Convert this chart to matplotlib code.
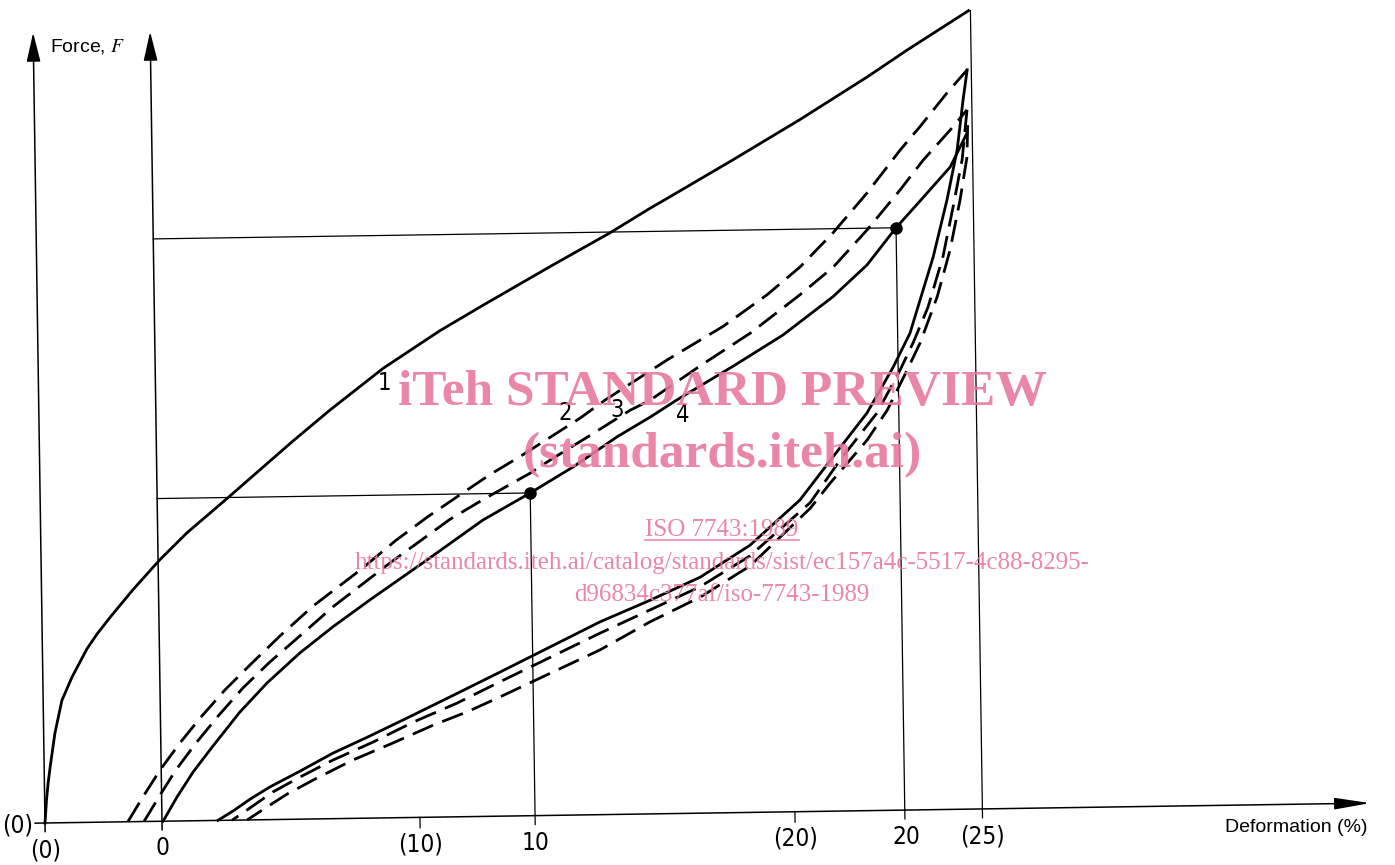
import matplotlib.pyplot as plt
from matplotlib.transforms import Affine2D
from matplotlib.patches import FancyArrowPatch
from matplotlib.lines import Line2D

plt.rcParams['mathtext.fontset'] = 'stix'

# deformation read on the bracketed (0)..(25) scale, force in arbitrary units
paren_pos = [0, 10, 20, 25]
paren_lab = ['(0)', '(10)', '(20)', '(25)']
plain_pos = [3.12, 13.07, 22.95]
plain_lab = ['0', '10', '20']

# curve 1 - first loading (solid)
c1_d = [0, 0.05, 0.1, 0.16, 0.3, 0.5, 0.78, 1.19, 1.46, 1.82, 2.44, 3.17, 3.9,
        4.98, 5.61, 6.77, 7.77, 9.2, 10.73, 11.89, 13.69, 15.3, 16.38, 16.84, 18.61,
        20.41, 22.22, 23.3, 24.95]
c1_f = [0, 2.9, 5.0, 7.0, 11.2, 15.3, 18.2, 21.7, 23.5, 25.6, 29.0, 32.7, 36.0,
        40.2, 42.7, 47.3, 51.1, 56.2, 60.8, 63.9, 68.6, 72.7, 75.7, 76.9, 81.6,
        86.5, 91.7, 95.0, 99.8]

# curve 2 (dashed)
c2_d = [2.21, 2.62, 3.09, 3.63, 4.18, 4.85, 5.53, 6.34, 7.23, 8.50, 9.45, 10.31,
        11.28, 12.0, 12.81, 13.81, 14.43, 15.10, 16.77, 18.28, 19.46, 20.36, 21.25,
        22.17, 23.07, 23.61, 24.35, 24.89]
c2_f = [0, 3.07, 6.41, 9.75, 12.84, 16.29, 19.37, 22.94, 26.6, 31.0, 34.6, 37.5,
        40.5, 42.7, 44.9, 47.8, 49.6, 51.8, 56.7, 60.8, 64.65, 68.1, 72.3,
        77.2, 82.5, 85.4, 89.6, 92.4]

# curve 3 (dashed)
c3_d = [2.64, 3.08, 3.51, 4.06, 4.66, 5.33, 6.06, 6.87, 7.77, 9.30, 10.92, 11.81,
        13.07, 13.61, 14.61, 15.77, 16.30, 17.65, 19.0, 20.34, 21.24, 22.16, 23.05,
        23.68, 24.41, 24.87]
c3_f = [0, 3.28, 6.38, 9.72, 13.05, 16.5, 19.7, 22.9, 26.5, 31.85, 37.2, 39.6,
        42.8, 44.4, 47.2, 50.5, 51.7, 55.9, 59.9, 64.6, 68.0, 72.6, 77.5,
        81.2, 84.9, 87.4]

# curve 4 (solid)
c4_d = [3.15, 3.53, 3.97, 4.51, 5.24, 5.98, 6.87, 7.76, 8.76, 10.24, 11.8, 13.07, 14.22,
        15.41, 16.30, 17.02, 18.53, 19.87, 21.22, 22.14, 22.93, 23.58, 24.40, 24.86]
c4_f = [0, 3.0, 6.1, 9.31, 13.5, 17.1, 20.8, 24.0, 27.3, 32.0, 37.05, 40.34, 43.5,
        47.2, 49.6, 51.7, 55.8, 59.6, 64.3, 68.2, 72.8, 76.1, 80.3, 84.5]

# unloading branches
u1_d = [24.89, 24.77, 24.59, 24.30, 23.91, 23.54, 23.26, 22.8, 22.08, 21.16, 20.26,
        18.91, 17.57, 16.22, 14.88, 12.19, 10.85, 9.70, 8.62, 7.71, 6.82, 6.01, 5.48,
        5.02, 4.61]
u1_f = [92.4, 88.7, 82.4, 76.2, 69.1, 63.7, 59.6, 55.4, 49.7, 44.3, 38.96,
        33.4, 29.5, 26.7, 24.1, 18.0, 15.0, 12.45, 10.1, 8.2, 6.0, 4.08, 2.6,
        1.15, 0]
u2_d = [24.87, 24.72, 24.46, 24.17, 23.75, 23.34, 22.98, 22.35, 21.35, 20.53, 18.9,
        17.56, 16.22, 14.88, 12.19, 11.03, 9.85, 8.78, 7.71, 6.82, 6.09, 5.47, 4.99]
u2_f = [87.4, 81.2, 75.3, 69.1, 62.8, 58.4, 55.0, 49.7, 43.9, 38.6, 32.05,
        28.3, 25.5, 22.7, 16.8, 14.2, 11.9, 9.5, 7.34, 5.27, 3.45, 1.49, 0]
u3_d = [24.88, 24.85, 24.65, 24.36, 24.0, 23.53, 23.17, 22.62, 22.07, 21.07, 20.53,
        18.9, 17.56, 16.21, 14.87, 12.18, 11.30, 10.39, 9.31, 8.24, 7.27, 6.47, 5.93, 5.39]
u3_f = [85.5, 81.5, 76.2, 69.9, 64.1, 58.4, 55.0, 50.0, 46.3, 41.0, 37.9,
        30.8, 27.0, 24.0, 20.6, 14.9, 13.1, 11.5, 9.35, 7.3, 5.11, 3.17, 1.6, 0]

# marked points on curve 4
dot_d = [13.07, 22.93]
dot_f = [40.34, 72.8]

# curve numbers
lab_txt = ['1', '2', '3', '4']
lab_d = [9.24, 14.03, 15.42, 17.18]
lab_f = [54.4, 50.3, 50.5, 49.8]

fig = plt.figure(figsize=(13.95, 8.65), dpi=100)
ax = fig.add_axes([0, 0, 1, 1])
ax.set_xlim(-1.2, 36.0)
ax.set_ylim(-5.25, 102.875)
ax.axis('off')

# the scanned drawing sits slightly rotated on the page
ox, oy = ax.transData.transform((0, 0))
tr = ax.transData + Affine2D().rotate_deg_around(ox, oy, 0.86)

narrow = dict(family=['DejaVu Sans'], fontstretch='condensed', fontsize=17.5)
sans = ['Liberation Sans', 'DejaVu Sans']


def arrow(p0, p1, hl, hw):
    ax.add_patch(FancyArrowPatch(p0, p1, transform=tr, color='k', lw=1.1,
                                 arrowstyle='-|>,head_length=%g,head_width=%g' % (hl, hw),
                                 mutation_scale=10, shrinkA=0, shrinkB=0))


# axes
arrow((-0.27, 0), (35.34, 0), 2.2, 0.36)
arrow((0, -1.1), (0, 98.8), 1.8, 0.43)
arrow((plain_pos[0], -1.1), (plain_pos[0], 98.7), 1.8, 0.43)

for p in paren_pos[1:3]:
    ax.plot([p, p], [0, -1.3], color='k', lw=0.9, transform=tr)
for p, l in zip(paren_pos, paren_lab):
    ax.text(p, -3.4, l, transform=tr, ha='center', va='center', **narrow)
for p, l in zip(plain_pos, plain_lab):
    ax.text(p, -3.4, l, transform=tr, ha='center', va='center', **narrow)
ax.text(-0.72, -0.2, '(0)', transform=tr, ha='center', va='center', **narrow)

# reference lines
ax.plot([paren_pos[3], paren_pos[3]], [-1.1, c1_f[-1]], color='k', lw=0.9, transform=tr)
for d, f in zip(dot_d, dot_f):
    ax.plot([plain_pos[0], d], [f, f], color='k', lw=0.9, transform=tr)
    ax.plot([d, d], [f, -1.1], color='k', lw=0.9, transform=tr)

# curves
dash = (0, (8, 3.5))
kw = dict(color='k', lw=2.0, transform=tr, solid_joinstyle='round')
ax.plot(c1_d, c1_f, **kw)
ax.plot(c2_d, c2_f, ls=dash, **kw)
ax.plot(c3_d, c3_f, ls=dash, **kw)
ax.plot(c4_d, c4_f, **kw)
ax.plot(u1_d, u1_f, **kw)
ax.plot(u2_d, u2_f, ls=dash, **kw)
ax.plot(u3_d, u3_f, ls=dash, **kw)
ax.plot(dot_d, dot_f, 'o', color='k', ms=8, transform=tr)

lab_style = dict(narrow, fontsize=17)
for t, d, f in zip(lab_txt, lab_d, lab_f):
    ax.text(d, f, t, transform=tr, ha='center', va='center', **lab_style)

ax.text(0.44, 97.0, 'Force, $F$', transform=tr, ha='left', va='center',
        fontsize=14, family=sans)
ax.text(31.45, -2.8, 'Deformation (%)', transform=tr, ha='left', va='center',
        fontsize=14, family=sans)

# watermark
pink = '#e97a9c'
serif = ['Liberation Serif', 'DejaVu Serif']
wm = dict(ha='center', va='center', family=serif, color=pink, alpha=0.9, zorder=10)
fig.text(0.5176, 0.5457, 'iTeh STANDARD PREVIEW', fontsize=37, fontweight='bold', **wm)
fig.text(0.5176, 0.474, '(standards.iteh.ai)', fontsize=37, fontweight='bold', **wm)
iso = fig.text(0.5176, 0.387, 'ISO 7743:1989', fontsize=18, **wm)
fig.text(0.5176, 0.349,
         'https://standards.iteh.ai/catalog/standards/sist/ec157a4c-5517-4c88-8295-',
         fontsize=18, **wm)
fig.text(0.5176, 0.312, 'd96834c377af/iso-7743-1989', fontsize=18, **wm)

fig.canvas.draw()
bb = iso.get_window_extent().transformed(fig.transFigure.inverted())
fig.add_artist(Line2D([bb.x0, bb.x1], [bb.y0 + 0.002, bb.y0 + 0.002], color=pink,
                      lw=1.2, alpha=0.9, transform=fig.transFigure, zorder=10))

fig.savefig('out.png', dpi=100, facecolor='white')
